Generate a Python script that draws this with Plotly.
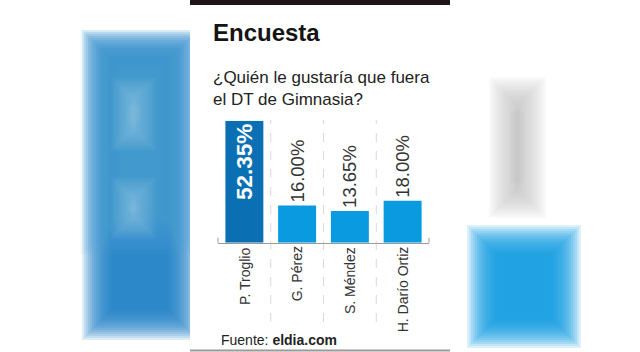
import plotly.graph_objects as go

# ---- data ----
candidates = ["P. Troglio", "G. Pérez", "S. Méndez", "H. Darío Ortiz"]
percentages = [52.35, 16.00, 13.65, 18.00]
bar_colors = ["#0b6fb4", "#0a9ae0", "#0a9ae0", "#0a9ae0"]
title_text = "Encuesta"
subtitle_text = "¿Quién le gustaría que fuera<br>el DT de Gimnasia?"
source_text = "Fuente: <b>eldia.com</b>"

W, H = 640, 352
FONT = "Liberation Sans, Arial, sans-serif"

def px(x):
    return x / W

def py(y):
    return 1 - y / H

# plot area (pixels)
X0, X1 = 218, 429
Y_TOP, Y_BOT = 120.7, 242.7

labels = []
for i, v in enumerate(percentages):
    s = f"{v:.2f}%"
    labels.append(f"<b>{s}</b>" if i == 0 else s)

fig = go.Figure()
fig.add_trace(go.Bar(
    x=candidates,
    y=percentages,
    marker=dict(color=bar_colors, line=dict(width=0)),
    width=0.72,
    text=labels,
    textposition=["inside", "outside", "outside", "outside"],
    insidetextanchor="end",
    textangle=-90,
    textfont=dict(family=FONT,
                  size=[22.5, 18.5, 18.5, 18.5],
                  color=["white", "#333333", "#333333", "#333333"]),
    constraintext="none",
    cliponaxis=False,
    hoverinfo="skip",
))

shapes = []

def blur_rect(x0, y0, x1, y1, color, spread=30, n=16, alpha=0.14):
    for i in range(n):
        e = spread * (i / (n - 1) - 0.5)
        shapes.append(dict(type="rect", xref="paper", yref="paper", layer="below",
                           x0=px(x0 - e), x1=px(x1 + e), y0=py(y1 + e), y1=py(y0 - e),
                           fillcolor=color, opacity=alpha, line=dict(width=0)))

# blurred background decorations
blur_rect(97, 45, 183, 325, "#1b7cc4")
blur_rect(100, 50, 180, 235, "#5aa3d8", spread=40, alpha=0.06)
blur_rect(126, 92, 141, 136, "#b5d6ef", spread=30, alpha=0.05)
blur_rect(126, 192, 141, 224, "#b5d6ef", spread=30, alpha=0.05)
blur_rect(507, 95, 528, 200, "#bdbdbd", spread=36, alpha=0.09)
blur_rect(482, 240, 566, 333, "#0b9ae0", spread=30)

# white panel
shapes.append(dict(type="rect", xref="paper", yref="paper", layer="below",
                   x0=px(190), x1=px(450), y0=0, y1=1,
                   fillcolor="white", line=dict(width=0)))
# top dark bar
shapes.append(dict(type="rect", xref="paper", yref="paper", layer="below",
                   x0=px(190), x1=px(450), y0=py(5), y1=1,
                   fillcolor="#1e1519", line=dict(width=0)))
# bottom border
shapes.append(dict(type="line", xref="paper", yref="paper", layer="below",
                   x0=px(190), x1=px(450), y0=py(350.5), y1=py(350.5),
                   line=dict(color="#9a9a9a", width=2)))

# dashed separators between categories
for k in range(len(candidates) - 1):
    shapes.append(dict(type="line", xref="x", yref="paper", layer="below",
                       x0=k + 0.5, x1=k + 0.5, y0=py(322), y1=py(120),
                       line=dict(color="#d9d9d9", width=1, dash="dash")))

# small end ticks on baseline
for xe in (X0, X1):
    shapes.append(dict(type="line", xref="paper", yref="paper", layer="above",
                       x0=px(xe), x1=px(xe), y0=py(Y_BOT), y1=py(Y_BOT - 5),
                       line=dict(color="#9a9a9a", width=1)))

annotations = [
    dict(text=title_text, xref="paper", yref="paper", x=px(211), y=py(32),
         xanchor="left", yanchor="middle", showarrow=False,
         font=dict(family=FONT, size=24, color="#141414", weight="bold")),
    dict(text=subtitle_text, xref="paper", yref="paper", x=px(211), y=py(88),
         xanchor="left", yanchor="middle", showarrow=False, align="left",
         font=dict(family=FONT, size=17, color="#222222")),
    dict(text=source_text, xref="paper", yref="paper", x=px(218.5), y=py(339.5),
         xanchor="left", yanchor="middle", showarrow=False,
         font=dict(family=FONT, size=14, color="#222222")),
]

# category labels (rotated, end of text next to the baseline)
for name in candidates:
    annotations.append(dict(text=name, xref="x", yref="paper", x=name, y=py(Y_BOT + 2),
                            xanchor="center", yanchor="top", showarrow=False,
                            textangle=-90,
                            font=dict(family=FONT, size=14, color="#333333")))

fig.update_layout(
    width=W, height=H,
    margin=dict(l=0, r=0, t=0, b=0),
    paper_bgcolor="white",
    plot_bgcolor="rgba(0,0,0,0)",
    showlegend=False,
    shapes=shapes,
    annotations=annotations,
    xaxis=dict(domain=[px(X0), px(X1)], range=[-0.5, len(candidates) - 0.5],
               showline=True, linecolor="#9a9a9a", linewidth=1,
               showgrid=False, zeroline=False, ticks="", showticklabels=False,
               fixedrange=True),
    yaxis=dict(domain=[py(Y_BOT), py(Y_TOP)], range=[0, max(percentages)],
               visible=False, fixedrange=True),
)

fig.write_html("out.html")
